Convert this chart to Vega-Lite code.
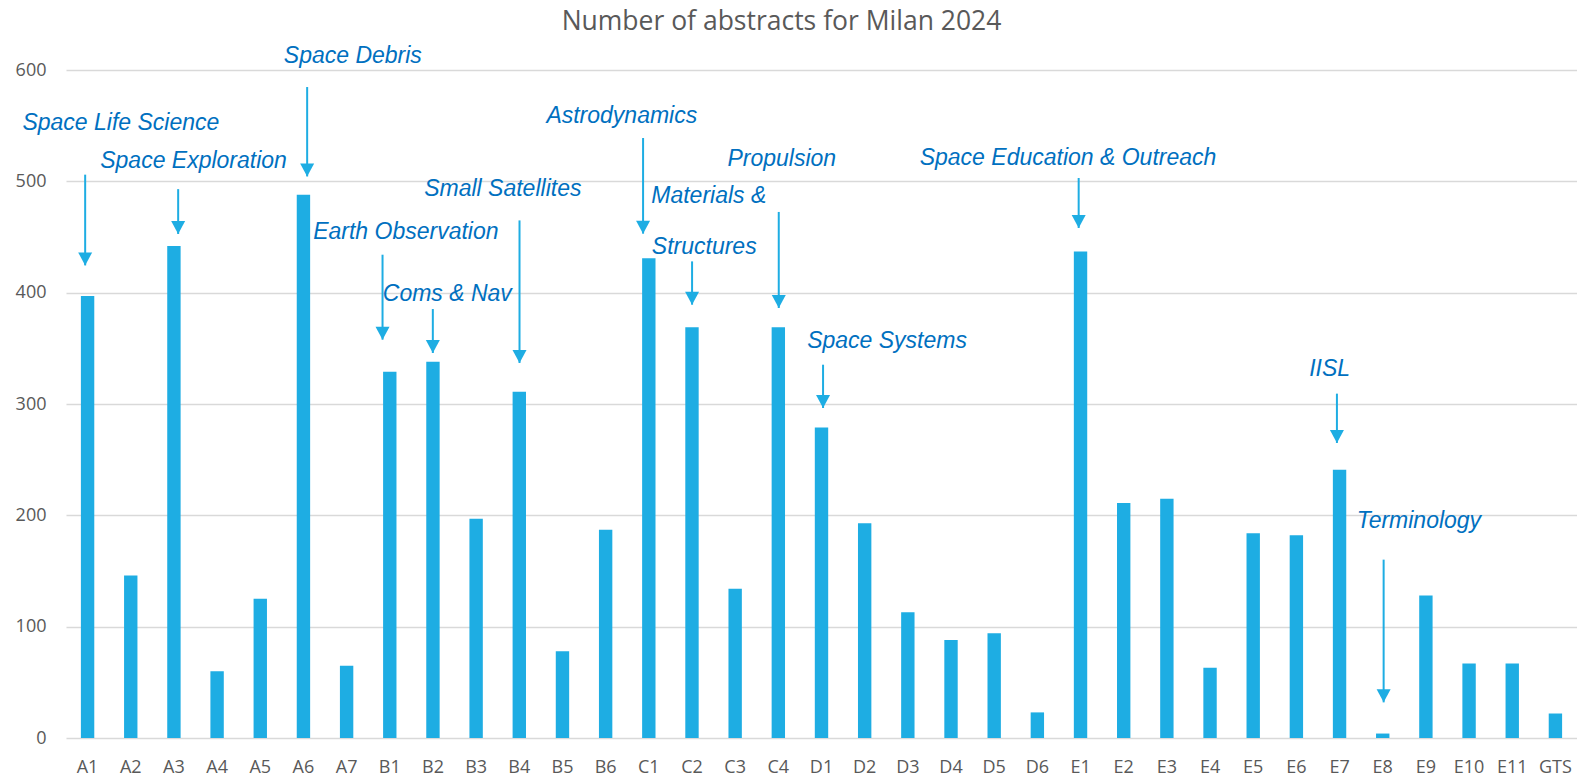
{
  "$schema": "https://vega.github.io/schema/vega-lite/v6.json",
  "width": 1511,
  "height": 668,
  "autosize": {"type": "none"},
  "padding": {"left": 66, "top": 70, "right": 0, "bottom": 38},
  "title": {
    "text": "Number of abstracts for Milan 2024",
    "font": "Open Sans",
    "fontSize": 26.5,
    "fontWeight": "normal",
    "color": "#595959",
    "anchor": "middle",
    "frame": "group",
    "dx": -40,
    "offset": -12,
    "baseline": "alphabetic"
  },
  "config": {
    "view": {"stroke": null},
    "axis": {"labelFont": "Open Sans", "labelFontSize": 18, "labelColor": "#595959"}
  },
  "resolve": {"scale": {"x": "independent"}},
  "layer": [
    {
      "data": {
        "values": [
          {"session": "A1", "abstracts": 397}, {"session": "A2", "abstracts": 146},
          {"session": "A3", "abstracts": 442}, {"session": "A4", "abstracts": 60},
          {"session": "A5", "abstracts": 125}, {"session": "A6", "abstracts": 488},
          {"session": "A7", "abstracts": 65}, {"session": "B1", "abstracts": 329},
          {"session": "B2", "abstracts": 338}, {"session": "B3", "abstracts": 197},
          {"session": "B4", "abstracts": 311}, {"session": "B5", "abstracts": 78},
          {"session": "B6", "abstracts": 187}, {"session": "C1", "abstracts": 431},
          {"session": "C2", "abstracts": 369}, {"session": "C3", "abstracts": 134},
          {"session": "C4", "abstracts": 369}, {"session": "D1", "abstracts": 279},
          {"session": "D2", "abstracts": 193}, {"session": "D3", "abstracts": 113},
          {"session": "D4", "abstracts": 88}, {"session": "D5", "abstracts": 94},
          {"session": "D6", "abstracts": 23}, {"session": "E1", "abstracts": 437},
          {"session": "E2", "abstracts": 211}, {"session": "E3", "abstracts": 215},
          {"session": "E4", "abstracts": 63}, {"session": "E5", "abstracts": 184},
          {"session": "E6", "abstracts": 182}, {"session": "E7", "abstracts": 241},
          {"session": "E8", "abstracts": 4}, {"session": "E9", "abstracts": 128},
          {"session": "E10", "abstracts": 67}, {"session": "E11", "abstracts": 67},
          {"session": "GTS", "abstracts": 22}
        ]
      },
      "mark": {"type": "bar", "color": "#1eade3"},
      "encoding": {
        "x": {
          "field": "session",
          "type": "nominal",
          "sort": null,
          "title": null,
          "scale": {"paddingInner": 0.69, "paddingOuter": 0.345},
          "axis": {"labelAngle": 0, "ticks": false, "domain": false, "labelPadding": 20, "labelFontSize": 18}
        },
        "y": {
          "field": "abstracts",
          "type": "quantitative",
          "title": null,
          "scale": {"domain": [0, 600], "nice": false},
          "axis": {
            "values": [0, 100, 200, 300, 400, 500, 600],
            "ticks": false,
            "domain": false,
            "labelPadding": 20,
            "labelFontSize": 18,
            "gridColor": "#d9d9d9",
            "gridWidth": 1.5
          }
        }
      }
    },
    {
      "data": {"name": "arrows", "values": [
        {"pos": -0.056, "top": 506, "tip": 424.5},
        {"pos": 2.098, "top": 493, "tip": 452.7},
        {"pos": 5.086, "top": 584.7, "tip": 504.4},
        {"pos": 6.832, "top": 434.1, "tip": 357.8},
        {"pos": 7.997, "top": 385.3, "tip": 345.8},
        {"pos": 10.005, "top": 464.9, "tip": 336.8},
        {"pos": 12.867, "top": 538.9, "tip": 453},
        {"pos": 14.002, "top": 428.1, "tip": 389.2},
        {"pos": 16.01, "top": 472.5, "tip": 386.2},
        {"pos": 17.036, "top": 335.3, "tip": 296.4},
        {"pos": 22.957, "top": 503, "tip": 458.1},
        {"pos": 28.939, "top": 309.3, "tip": 265},
        {"pos": 30.021, "top": 160.2, "tip": 32}
      ]},
      "layer": [
        {
          "mark": {"type": "rule", "color": "#1eade3", "strokeWidth": 2},
          "encoding": {
            "x": {"field": "pos", "type": "quantitative", "axis": null, "scale": {"domain": [-0.5, 34.5], "nice": false, "zero": false}},
            "y": {"field": "top", "type": "quantitative", "title": null, "scale": {"domain": [0, 600], "nice": false}},
            "y2": {"field": "tip"}
          }
        },
        {
          "mark": {"type": "point", "shape": "M-1,-1.857L1,-1.857L0,0Z", "size": 196, "filled": true, "opacity": 1, "color": "#1eade3"},
          "encoding": {
            "x": {"field": "pos", "type": "quantitative", "axis": null, "scale": {"domain": [-0.5, 34.5], "nice": false, "zero": false}},
            "y": {"field": "tip", "type": "quantitative", "title": null, "scale": {"domain": [0, 600], "nice": false}}
          }
        }
      ]
    },
    {
      "data": {"values": [
        {"label": "Space Life Science", "pos": 0.771, "y": 546.4},
        {"label": "Space Exploration", "pos": 2.455, "y": 512},
        {"label": "Space Debris", "pos": 6.144, "y": 606.3},
        {"label": "Earth Observation", "pos": 7.372, "y": 448.2},
        {"label": "Coms & Nav", "pos": 8.333, "y": 392.2},
        {"label": "Small Satellites", "pos": 9.618, "y": 486.5},
        {"label": "Astrodynamics", "pos": 12.374, "y": 552.4},
        {"label": "Materials &", "pos": 14.389, "y": 480.5},
        {"label": "Structures", "pos": 14.284, "y": 434.7},
        {"label": "Propulsion", "pos": 16.079, "y": 514},
        {"label": "Space Systems", "pos": 18.518, "y": 350.3},
        {"label": "Space Education & Outreach", "pos": 22.71, "y": 515},
        {"label": "IISL", "pos": 28.77, "y": 324.8},
        {"label": "Terminology", "pos": 30.838, "y": 188.6}
      ]},
      "mark": {
        "type": "text",
        "font": "Liberation Sans",
        "fontStyle": "italic",
        "fontSize": 23,
        "color": "#0070c0",
        "align": "center",
        "baseline": "alphabetic"
      },
      "encoding": {
        "x": {"field": "pos", "type": "quantitative", "axis": null, "scale": {"domain": [-0.5, 34.5], "nice": false, "zero": false}},
        "y": {"field": "y", "type": "quantitative", "title": null, "scale": {"domain": [0, 600], "nice": false}},
        "text": {"field": "label"}
      }
    }
  ]
}
